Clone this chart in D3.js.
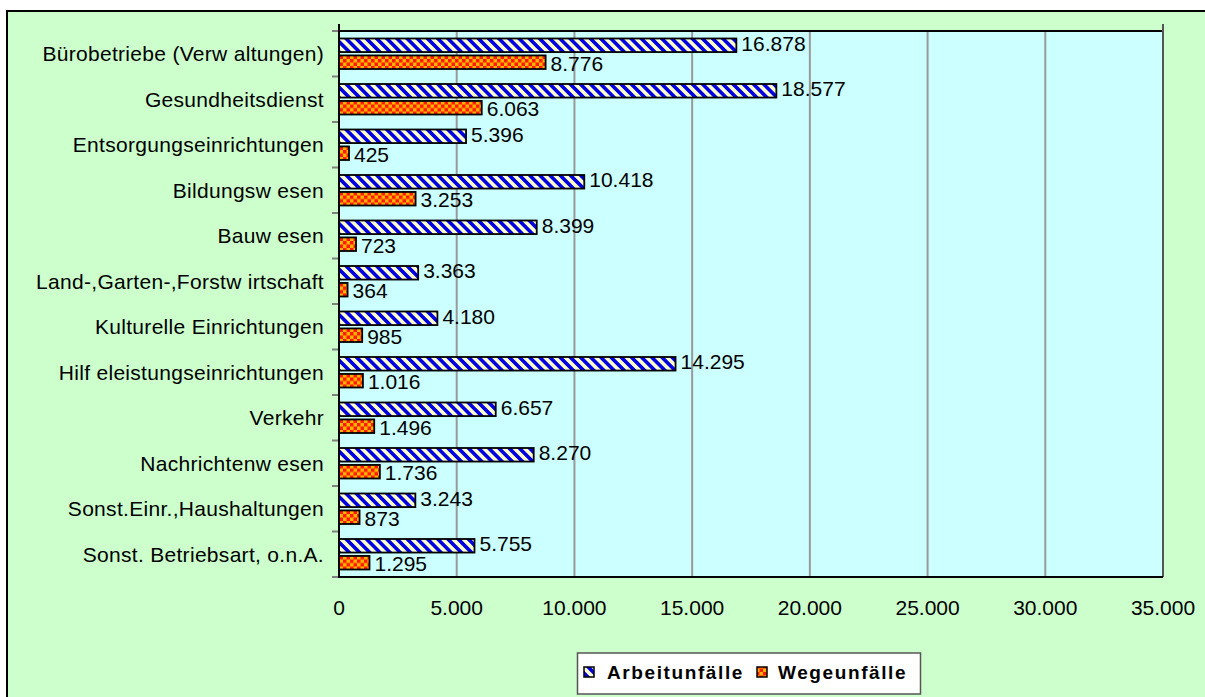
<!DOCTYPE html>
<html>
<head>
<meta charset="utf-8">
<script src="https://cdn.jsdelivr.net/npm/d3@7"></script>
<style>
  html, body { margin: 0; padding: 0; background: #fff; }
  svg { display: block; font-family: "Liberation Sans", Arial, sans-serif; }
</style>
</head>
<body>
<svg id="chart" width="1205" height="697"></svg>
<script>
// categories as they appear in the chart (Excel's spacing kept)
const categories = [
  'Bürobetriebe (Verw altungen)',
  'Gesundheitsdienst',
  'Entsorgungseinrichtungen',
  'Bildungsw esen',
  'Bauw esen',
  'Land-,Garten-,Forstw irtschaft',
  'Kulturelle Einrichtungen',
  'Hilf eleistungseinrichtungen',
  'Verkehr',
  'Nachrichtenw esen',
  'Sonst.Einr.,Haushaltungen',
  'Sonst. Betriebsart, o.n.A.'
]
const arbeitunfaelle = [16878, 18577, 5396, 10418, 8399, 3363, 4180, 14295, 6657, 8270, 3243, 5755]
const wegeunfaelle = [8776, 6063, 425, 3253, 723, 364, 985, 1016, 1496, 1736, 873, 1295]
const seriesNames = ['Arbeitunfälle', 'Wegeunfälle']
const xTicks = [0, 5000, 10000, 15000, 20000, 25000, 30000, 35000]

const svg = d3.select('#chart')
const plot = { left: 339, top: 31, right: 1163, bottom: 577 }

const de = d3.formatLocale({ decimal: ',', thousands: '.', grouping: [3], currency: ['', '€'] })
const fmt = de.format(',d')

// patterns
const defs = svg.append('defs')
const stripe = defs.append('pattern')
  .attr('id', 'stripe')
  .attr('patternUnits', 'userSpaceOnUse')
  .attr('width', 7.2).attr('height', 7.2)
  .attr('patternTransform', 'rotate(-45)')
stripe.append('rect').attr('width', 7.2).attr('height', 7.2).attr('fill', '#ffffcc')
stripe.append('rect').attr('width', 3.6).attr('height', 7.2).attr('fill', '#0000e0')

const checker = defs.append('pattern')
  .attr('id', 'checker')
  .attr('patternUnits', 'userSpaceOnUse')
  .attr('width', 7).attr('height', 7)
checker.append('rect').attr('width', 7).attr('height', 7).attr('fill', '#ffb400')
checker.append('rect').attr('width', 3.5).attr('height', 3.5).attr('fill', '#ff1a00')
checker.append('rect').attr('x', 3.5).attr('y', 3.5).attr('width', 3.5).attr('height', 3.5).attr('fill', '#ff1a00')

const fills = ['url(#stripe)', 'url(#checker)']

// chart area background
svg.append('rect')
  .attr('x', 7).attr('y', 11).attr('width', 1300).attr('height', 800)
  .attr('fill', '#ccffcc').attr('stroke', '#000').attr('stroke-width', 2)

// plot area
svg.append('rect')
  .attr('x', plot.left).attr('y', plot.top)
  .attr('width', plot.right - plot.left).attr('height', plot.bottom - plot.top)
  .attr('fill', '#ccffff')

const x = d3.scaleLinear().domain([0, 35000]).range([plot.left, plot.right])
const y = d3.scaleBand().domain(categories).range([plot.top, plot.bottom])
const ySub = d3.scaleBand().domain(seriesNames).range([7.5, 38]).paddingInner(0.2)

// vertical gridlines
svg.append('g').selectAll('line')
  .data(xTicks.slice(1))
  .join('line')
  .attr('x1', d => x(d)).attr('x2', d => x(d))
  .attr('y1', plot.top).attr('y2', plot.bottom)
  .attr('stroke', '#999').attr('stroke-width', 2)

// y ticks
svg.append('g').selectAll('line')
  .data(categories.concat(['end']))
  .join('line')
  .attr('x1', plot.left - 7).attr('x2', plot.left)
  .attr('y1', d => d === 'end' ? plot.bottom : y(d))
  .attr('y2', d => d === 'end' ? plot.bottom : y(d))
  .attr('stroke', '#808080').attr('stroke-width', 2)

// plot border
svg.append('line').attr('x1', plot.left).attr('x2', plot.right).attr('y1', plot.top).attr('y2', plot.top)
  .attr('stroke', '#000').attr('stroke-width', 2)
svg.append('line').attr('x1', plot.right).attr('x2', plot.right).attr('y1', plot.top - 7).attr('y2', plot.bottom)
  .attr('stroke', '#555').attr('stroke-width', 2)

const rows = categories.map((c, i) => ({ cat: c, values: [arbeitunfaelle[i], wegeunfaelle[i]] }))

const groups = svg.append('g').selectAll('g')
  .data(rows)
  .join('g')
  .attr('transform', d => `translate(0,${y(d.cat)})`)

groups.selectAll('rect')
  .data(d => d.values.map((v, k) => ({ v, k })))
  .join('rect')
  .attr('x', x(0))
  .attr('y', d => ySub(seriesNames[d.k]))
  .attr('width', d => x(d.v) - x(0))
  .attr('height', ySub.bandwidth())
  .attr('fill', d => fills[d.k])
  .attr('stroke', '#000').attr('stroke-width', 1.8)

groups.selectAll('text')
  .data(d => d.values.map((v, k) => ({ v, k })))
  .join('text')
  .attr('x', d => x(d.v) + 5)
  .attr('y', d => ySub(seriesNames[d.k]) + ySub.bandwidth() / 2 + (d.k === 0 ? -2 : 1))
  .attr('dominant-baseline', 'central')
  .style('font-size', '21px')
  .attr('fill', '#000')
  .text(d => fmt(d.v))

// axes lines
svg.append('line').attr('x1', plot.left).attr('x2', plot.left).attr('y1', plot.top - 7).attr('y2', plot.bottom + 1)
  .attr('stroke', '#000').attr('stroke-width', 2)
svg.append('line').attr('x1', plot.left).attr('x2', plot.right).attr('y1', plot.bottom).attr('y2', plot.bottom)
  .attr('stroke', '#000').attr('stroke-width', 2)

// category labels
svg.append('g').selectAll('text')
  .data(categories)
  .join('text')
  .attr('x', 324)
  .attr('y', d => y(d) + y.bandwidth() / 2)
  .attr('text-anchor', 'end')
  .attr('dominant-baseline', 'central')
  .style('font-size', '21px')
  .style('letter-spacing', '0.3px')
  .text(d => d)

// x tick labels
svg.append('g').selectAll('text')
  .data(xTicks)
  .join('text')
  .attr('x', d => x(d))
  .attr('y', 607)
  .attr('text-anchor', 'middle')
  .attr('dominant-baseline', 'central')
  .style('font-size', '21px')
  .text(d => fmt(d))

// legend
const legend = svg.append('g')
legend.append('rect')
  .attr('x', 577.5).attr('y', 653).attr('width', 343).attr('height', 41)
  .attr('fill', '#fff').attr('stroke', '#555').attr('stroke-width', 1.5)
const legendX = [584, 757]
const legendTextX = [607, 778]
seriesNames.forEach((name, k) => {
  legend.append('rect')
    .attr('x', legendX[k]).attr('y', 667).attr('width', 10).attr('height', 10)
    .attr('fill', fills[k]).attr('stroke', '#000').attr('stroke-width', 1.5)
  legend.append('text')
    .attr('x', legendTextX[k]).attr('y', 672)
    .attr('dominant-baseline', 'central')
    .style('font-size', '19px')
    .style('font-weight', 'bold')
    .style('letter-spacing', '1.6px')
    .text(name)
})
</script>
</body>
</html>
